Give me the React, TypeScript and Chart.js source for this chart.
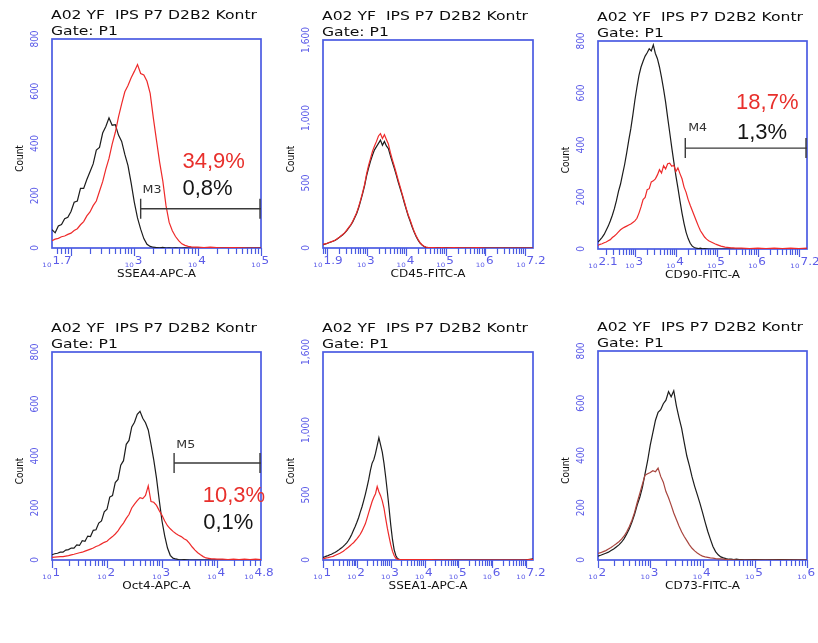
import React, { useEffect, useRef } from 'react';
import { Chart, registerables } from 'chart.js';

Chart.register(...registerables);

// ---------------- DATA ----------------
const TITLE_LINE_1 = 'A02 YF  IPS P7 D2B2 Kontr';
const TITLE_LINE_2 = 'Gate: P1';
const COUNT_LABEL = 'Count';

const Y_TICKS_800 = [0, 200, 400, 600, 800];
const Y_TICKS_1600 = [0, 500, 1000, 1600];

// Panel 1: SSEA4-APC-A
const SSEA4_BINS = [1.7, 1.75, 1.8, 1.85, 1.9, 1.95, 2.0, 2.05, 2.1, 2.15, 2.2, 2.25, 2.3, 2.35, 2.4, 2.45, 2.5, 2.55, 2.6, 2.65, 2.7, 2.75, 2.8, 2.85, 2.9, 2.95, 3.0, 3.05, 3.1, 3.15, 3.2, 3.25, 3.3, 3.35, 3.4, 3.45, 3.5, 3.55, 3.6, 3.65, 3.7, 3.75, 3.8, 3.85, 3.9, 3.95, 4.0, 4.1, 4.2, 4.3, 4.4, 4.5, 4.6, 4.7, 4.8, 4.9, 5.0];
const SSEA4_CONTROL = [70, 58, 84, 90, 112, 118, 140, 175, 180, 228, 228, 262, 292, 322, 375, 385, 440, 465, 498, 470, 472, 432, 408, 358, 315, 248, 175, 115, 72, 36, 14, 6, 3, 2, 1, 2, 0, 1, 0, 1, 0, 0, 1, 0, 0, 0, 0, 0, 0, 0, 0, 0, 0, 0, 0, 0, 0];
const SSEA4_STAINED = [28, 34, 37, 43, 46, 52, 57, 67, 74, 89, 101, 123, 138, 162, 180, 217, 254, 302, 343, 398, 443, 502, 552, 598, 622, 652, 676, 702, 668, 662, 638, 592, 498, 412, 328, 256, 162, 98, 66, 44, 28, 16, 10, 6, 4, 3, 3, 2, 3, 2, 1, 2, 2, 1, 0, 0, 0];
const SSEA4_TICKS = [1.7, 3, 4, 5];

// Panel 2: CD45-FITC-A
const CD45_BINS = [1.9, 1.95, 2.0, 2.05, 2.1, 2.15, 2.2, 2.25, 2.3, 2.35, 2.4, 2.45, 2.5, 2.55, 2.6, 2.65, 2.7, 2.75, 2.8, 2.85, 2.9, 2.95, 3.0, 3.05, 3.1, 3.15, 3.2, 3.25, 3.3, 3.35, 3.4, 3.45, 3.5, 3.55, 3.6, 3.65, 3.7, 3.75, 3.8, 3.85, 3.9, 3.95, 4.0, 4.05, 4.1, 4.15, 4.2, 4.25, 4.3, 4.35, 4.4, 4.45, 4.5, 4.55, 4.6, 4.7, 4.8, 4.9, 5.0, 5.2, 5.4, 5.6, 5.8, 6.0, 6.5, 7.0, 7.2];
const CD45_CONTROL = [26, 30, 35, 40, 46, 52, 58, 68, 78, 90, 102, 116, 134, 155, 175, 200, 232, 266, 310, 362, 418, 480, 555, 615, 668, 715, 755, 780, 805, 830, 790, 820, 785, 765, 710, 660, 612, 560, 505, 455, 405, 350, 298, 248, 205, 162, 122, 88, 60, 38, 22, 11, 5, 3, 2, 2, 1, 2, 1, 1, 0, 0, 0, 0, 0, 0, 0];
const CD45_STAINED = [28, 32, 36, 42, 47, 53, 60, 70, 80, 92, 104, 118, 138, 158, 178, 205, 238, 272, 318, 370, 428, 490, 570, 635, 690, 745, 785, 820, 862, 880, 842, 872, 835, 800, 735, 680, 630, 575, 520, 468, 415, 360, 305, 255, 215, 170, 128, 95, 65, 42, 25, 13, 7, 5, 4, 3, 2, 3, 2, 3, 2, 2, 3, 0, 0, 0, 0];
const CD45_TICKS = [1.9, 3, 4, 5, 6, 7.2];

// Panel 3: CD90-FITC-A
const CD90_BINS = [2.1, 2.15, 2.2, 2.25, 2.3, 2.35, 2.4, 2.45, 2.5, 2.55, 2.6, 2.65, 2.7, 2.75, 2.8, 2.85, 2.9, 2.95, 3.0, 3.05, 3.1, 3.15, 3.2, 3.25, 3.3, 3.35, 3.4, 3.45, 3.5, 3.55, 3.6, 3.65, 3.7, 3.75, 3.8, 3.85, 3.9, 3.95, 4.0, 4.05, 4.1, 4.15, 4.2, 4.25, 4.3, 4.35, 4.4, 4.45, 4.5, 4.55, 4.6, 4.65, 4.7, 4.75, 4.8, 4.85, 4.9, 4.95, 5.0, 5.05, 5.1, 5.15, 5.2, 5.25, 5.3, 5.35, 5.4, 5.45, 5.5, 5.6, 5.8, 6.0, 6.2, 6.4, 6.6, 6.8, 7.0, 7.2];
const CD90_CONTROL = [27, 35, 45, 56, 72, 88, 108, 130, 155, 186, 222, 250, 288, 325, 370, 418, 462, 515, 572, 622, 668, 700, 722, 742, 755, 770, 762, 785, 752, 732, 700, 660, 615, 565, 505, 448, 390, 335, 282, 235, 185, 138, 98, 64, 40, 22, 11, 6, 3, 2, 3, 1, 2, 1, 0, 0, 0, 0, 0, 0, 0, 0, 0, 0, 0, 0, 0, 0, 0, 0, 0, 0, 0, 0, 0, 0, 0, 0];
const CD90_STAINED = [14, 18, 20, 24, 27, 32, 36, 44, 50, 57, 66, 74, 80, 84, 88, 92, 96, 102, 108, 118, 138, 162, 190, 198, 228, 232, 258, 262, 270, 285, 305, 292, 320, 308, 328, 330, 318, 322, 298, 312, 290, 270, 238, 218, 190, 168, 148, 128, 108, 88, 70, 58, 46, 38, 32, 28, 24, 20, 17, 14, 11, 9, 7, 6, 5, 4, 4, 3, 3, 3, 2, 3, 2, 3, 2, 3, 2, 3];
const CD90_TICKS = [2.1, 3, 4, 5, 6, 7.2];

// Panel 4: Oct4-APC-A
const OCT4_BINS = [1.0, 1.05, 1.1, 1.15, 1.2, 1.25, 1.3, 1.35, 1.4, 1.45, 1.5, 1.55, 1.6, 1.65, 1.7, 1.75, 1.8, 1.85, 1.9, 1.95, 2.0, 2.05, 2.1, 2.15, 2.2, 2.25, 2.3, 2.35, 2.4, 2.45, 2.5, 2.55, 2.6, 2.65, 2.7, 2.75, 2.8, 2.85, 2.9, 2.95, 3.0, 3.05, 3.1, 3.15, 3.2, 3.25, 3.3, 3.35, 3.4, 3.45, 3.5, 3.55, 3.6, 3.65, 3.7, 3.75, 3.8, 3.85, 3.9, 3.95, 4.0, 4.1, 4.2, 4.3, 4.4, 4.5, 4.6, 4.7, 4.8];
const OCT4_CONTROL = [20, 24, 26, 30, 30, 38, 40, 46, 46, 58, 56, 74, 72, 92, 90, 114, 116, 142, 150, 185, 195, 242, 248, 298, 310, 365, 382, 445, 460, 512, 530, 560, 572, 545, 528, 500, 445, 385, 315, 230, 150, 92, 46, 18, 7, 4, 2, 1, 2, 1, 0, 0, 0, 0, 0, 0, 0, 0, 0, 0, 0, 0, 0, 0, 0, 0, 0, 0, 0];
const OCT4_STAINED = [10, 11, 12, 13, 13, 15, 17, 20, 22, 25, 28, 30, 34, 38, 42, 46, 52, 56, 62, 68, 72, 82, 90, 100, 112, 128, 142, 160, 175, 200, 215, 228, 240, 236, 248, 285, 225, 222, 210, 190, 172, 150, 132, 120, 110, 102, 95, 90, 82, 76, 64, 50, 38, 28, 20, 13, 8, 6, 4, 4, 3, 3, 2, 3, 2, 3, 2, 3, 2];
const OCT4_TICKS = [1, 2, 3, 4, 4.8];

// Panel 5: SSEA1-APC-A
const SSEA1_BINS = [1.0, 1.05, 1.1, 1.15, 1.2, 1.25, 1.3, 1.35, 1.4, 1.45, 1.5, 1.55, 1.6, 1.65, 1.7, 1.75, 1.8, 1.85, 1.9, 1.95, 2.0, 2.05, 2.1, 2.15, 2.2, 2.25, 2.3, 2.35, 2.4, 2.45, 2.5, 2.55, 2.6, 2.65, 2.7, 2.75, 2.8, 2.85, 2.9, 2.95, 3.0, 3.05, 3.1, 3.15, 3.2, 3.25, 3.3, 3.35, 3.4, 3.45, 3.5, 3.6, 3.8, 4.0, 4.2, 4.4, 4.6, 5.0, 5.5, 6.0, 6.5, 7.0, 7.2];
const SSEA1_CONTROL = [20, 24, 30, 34, 40, 44, 52, 58, 66, 74, 84, 94, 105, 118, 132, 150, 172, 198, 228, 258, 290, 325, 368, 408, 455, 505, 560, 620, 690, 745, 772, 820, 880, 940, 885, 830, 745, 640, 525, 400, 270, 160, 80, 35, 12, 5, 3, 2, 2, 1, 1, 2, 1, 2, 1, 0, 0, 0, 0, 0, 0, 2, 8];
const SSEA1_STAINED = [10, 12, 16, 18, 22, 25, 28, 34, 40, 46, 52, 60, 67, 78, 88, 98, 110, 122, 132, 148, 162, 180, 198, 222, 250, 278, 320, 365, 408, 450, 482, 510, 565, 525, 495, 455, 400, 320, 245, 180, 118, 68, 34, 14, 7, 4, 3, 4, 3, 4, 3, 4, 3, 4, 3, 2, 1, 0, 0, 0, 0, 2, 5];
const SSEA1_TICKS = [1, 2, 3, 4, 5, 6, 7.2];

// Panel 6: CD73-FITC-A
const CD73_BINS = [2.0, 2.05, 2.1, 2.15, 2.2, 2.25, 2.3, 2.35, 2.4, 2.45, 2.5, 2.55, 2.6, 2.65, 2.7, 2.75, 2.8, 2.85, 2.9, 2.95, 3.0, 3.05, 3.1, 3.15, 3.2, 3.25, 3.3, 3.35, 3.4, 3.45, 3.5, 3.55, 3.6, 3.65, 3.7, 3.75, 3.8, 3.85, 3.9, 3.95, 4.0, 4.05, 4.1, 4.15, 4.2, 4.25, 4.3, 4.35, 4.4, 4.45, 4.5, 4.55, 4.6, 4.65, 4.7, 4.75, 4.8, 5.0, 5.2, 5.5, 6.0];
const CD73_CONTROL = [15, 18, 22, 26, 30, 36, 42, 50, 58, 68, 82, 100, 120, 145, 175, 210, 240, 278, 330, 380, 440, 488, 535, 565, 575, 598, 612, 645, 625, 648, 590, 545, 505, 450, 398, 360, 318, 282, 250, 218, 182, 145, 110, 80, 52, 32, 20, 12, 8, 5, 3, 3, 2, 3, 2, 2, 1, 2, 1, 2, 0];
const CD73_STAINED = [25, 28, 32, 36, 42, 48, 55, 62, 70, 80, 92, 108, 128, 152, 182, 220, 255, 290, 325, 330, 335, 342, 338, 352, 320, 298, 262, 238, 210, 180, 155, 130, 108, 90, 74, 58, 45, 35, 27, 20, 15, 12, 10, 8, 7, 5, 4, 4, 3, 2, 2, 1, 1, 0, 0, 0, 0, 0, 0, 0, 0];
const CD73_TICKS = [2, 3, 4, 5, 6];

// Markers (gates) and percentages
const GATE_NAMES = ['M3', 'M4', 'M5'];
const GATE_START = [3.1, 4.23, 3.22];
const GATE_END = [5.0, 7.2, 4.8];
const GATE_LEVEL = [150, 388, 373];
const STAINED_PERCENT = ['34,9%', '18,7%', '10,3%'];
const CONTROL_PERCENT = ['0,8%', '1,3%', '0,1%'];

// ---------------- LAYOUT / STYLE ----------------
const FACS_FONT = '"DejaVu Sans", "Noto Sans", sans-serif';
const PCT_FONT = '"Liberation Sans", Arial, sans-serif';
const AXIS_BLUE = '#4a5be2';
const LABEL_BLUE = '#5c5ce8';
const STRETCH = 1.2;

type Gate = {
  idx: number;
  labelAt: [number, number];
  stainedAt: [number, number];
  controlAt: [number, number];
};

type PanelDef = {
  axisTitle: string;
  bins: number[];
  control: number[];
  stained: number[];
  xMin: number;
  xMax: number;
  xTicks: number[];
  yMax: number;
  yTicks: number[];
  stainedColor: string;
  cell: { x: number; y: number; w: number; h: number };
  plot: { l: number; r: number; t: number; b: number };
  gate?: Gate;
};

const PANELS: PanelDef[] = [
  {
    axisTitle: 'SSEA4-APC-A', bins: SSEA4_BINS, control: SSEA4_CONTROL, stained: SSEA4_STAINED,
    xMin: 1.7, xMax: 5, xTicks: SSEA4_TICKS, yMax: 800, yTicks: Y_TICKS_800, stainedColor: '#ee2a2a',
    cell: { x: 0, y: 0, w: 290, h: 305 }, plot: { l: 52, r: 261, t: 39, b: 248 },
    gate: { idx: 0, labelAt: [3.13, 222], stainedAt: [3.76, 331], controlAt: [3.76, 226] },
  },
  {
    axisTitle: 'CD45-FITC-A', bins: CD45_BINS, control: CD45_CONTROL, stained: CD45_STAINED,
    xMin: 1.9, xMax: 7.2, xTicks: CD45_TICKS, yMax: 1600, yTicks: Y_TICKS_1600, stainedColor: '#ee2a2a',
    cell: { x: 272, y: 0, w: 290, h: 305 }, plot: { l: 323, r: 533, t: 40, b: 248 },
  },
  {
    axisTitle: 'CD90-FITC-A', bins: CD90_BINS, control: CD90_CONTROL, stained: CD90_STAINED,
    xMin: 2.1, xMax: 7.2, xTicks: CD90_TICKS, yMax: 800, yTicks: Y_TICKS_800, stainedColor: '#ee2a2a',
    cell: { x: 545, y: 0, w: 273, h: 305 }, plot: { l: 598, r: 807, t: 41, b: 249 },
    gate: { idx: 1, labelAt: [4.3, 465], stainedAt: [5.47, 561], controlAt: [5.49, 446] },
  },
  {
    axisTitle: 'Oct4-APC-A', bins: OCT4_BINS, control: OCT4_CONTROL, stained: OCT4_STAINED,
    xMin: 1, xMax: 4.8, xTicks: OCT4_TICKS, yMax: 800, yTicks: Y_TICKS_800, stainedColor: '#ee2a2a',
    cell: { x: 0, y: 308, w: 290, h: 305 }, plot: { l: 52, r: 261, t: 352, b: 560 },
    gate: { idx: 2, labelAt: [3.26, 443], stainedAt: [3.74, 248], controlAt: [3.75, 144] },
  },
  {
    axisTitle: 'SSEA1-APC-A', bins: SSEA1_BINS, control: SSEA1_CONTROL, stained: SSEA1_STAINED,
    xMin: 1, xMax: 7.2, xTicks: SSEA1_TICKS, yMax: 1600, yTicks: Y_TICKS_1600, stainedColor: '#ee2a2a',
    cell: { x: 272, y: 308, w: 290, h: 305 }, plot: { l: 323, r: 533, t: 352, b: 560 },
  },
  {
    axisTitle: 'CD73-FITC-A', bins: CD73_BINS, control: CD73_CONTROL, stained: CD73_STAINED,
    xMin: 2, xMax: 6, xTicks: CD73_TICKS, yMax: 800, yTicks: Y_TICKS_800, stainedColor: '#a8453e',
    cell: { x: 545, y: 308, w: 273, h: 305 }, plot: { l: 598, r: 807, t: 351, b: 560 },
  },
];

// ---------------- DRAWING HELPERS ----------------
function drawText(
  ctx: CanvasRenderingContext2D, s: string, x: number, y: number, font: string, color: string,
  align: CanvasTextAlign, baseline: CanvasTextBaseline, sx = 1, rot = 0,
) {
  ctx.save();
  ctx.translate(x, y);
  ctx.scale(sx, 1);
  if (rot) ctx.rotate(rot);
  ctx.font = font;
  ctx.fillStyle = color;
  ctx.textAlign = align;
  ctx.textBaseline = baseline;
  ctx.fillText(s, 0, 0);
  ctx.restore();
}

function makePlugin(p: PanelDef, id: string) {
  return {
    id,
    beforeDatasetsDraw(chart: any) {
      const { ctx, chartArea: a } = chart;
      ctx.save();
      ctx.strokeStyle = AXIS_BLUE;
      ctx.lineWidth = 1.7;
      ctx.strokeRect(a.left, a.top, a.right - a.left, a.bottom - a.top);
      ctx.restore();
    },
    afterDatasetsDraw(chart: any) {
      const { ctx, chartArea: a } = chart;
      const xs = chart.scales.x;
      const ys = chart.scales.y;
      const midX = (a.left + a.right) / 2;
      const midY = (a.top + a.bottom) / 2;

      // log-decade tick marks under the x axis
      ctx.save();
      ctx.strokeStyle = AXIS_BLUE;
      ctx.lineWidth = 1.2;
      for (let n = Math.floor(p.xMin); n <= Math.ceil(p.xMax); n++) {
        for (let k = 1; k <= 9; k++) {
          const v = n + Math.log10(k);
          if (v < p.xMin - 1e-6 || v > p.xMax + 1e-6) continue;
          const px = Math.round(xs.getPixelForValue(v)) + 0.5;
          ctx.beginPath();
          ctx.moveTo(px, a.bottom);
          ctx.lineTo(px, a.bottom + (k === 1 ? 8 : 6));
          ctx.stroke();
        }
      }
      ctx.restore();

      // x tick labels: small "10" + exponent (non-integer end label pulled inwards)
      p.xTicks.forEach((v) => {
        const shift = v === p.xMax && !Number.isInteger(v) ? -7 : 0;
        const px = xs.getPixelForValue(v) + shift;
        drawText(ctx, '10', px - 0.5, a.bottom + 19, `6px ${FACS_FONT}`, LABEL_BLUE, 'right', 'alphabetic', STRETCH);
        drawText(ctx, String(v), px + 0.5, a.bottom + 16, `10px ${FACS_FONT}`, LABEL_BLUE, 'left', 'alphabetic', STRETCH);
      });

      // y tick labels (rotated)
      p.yTicks.forEach((v) => {
        const py = ys.getPixelForValue(v);
        drawText(ctx, v.toLocaleString('en-US'), a.left - 17, py, `9px ${FACS_FONT}`, LABEL_BLUE, 'center', 'middle', STRETCH, -Math.PI / 2);
      });

      // axis titles
      drawText(ctx, COUNT_LABEL, a.left - 32, midY + 15, `9px ${FACS_FONT}`, '#111', 'center', 'middle', STRETCH, -Math.PI / 2);
      drawText(ctx, p.axisTitle, midX, a.bottom + 29, `10px ${FACS_FONT}`, '#111', 'center', 'alphabetic', STRETCH);

      // header
      drawText(ctx, TITLE_LINE_1, a.left - 1, a.top - 20, `13px ${FACS_FONT}`, '#0c0c0c', 'left', 'alphabetic', STRETCH);
      drawText(ctx, TITLE_LINE_2, a.left - 1, a.top - 4, `13px ${FACS_FONT}`, '#0c0c0c', 'left', 'alphabetic', STRETCH);

      // gate marker and percentages
      if (p.gate) {
        const g = p.gate;
        const x1 = xs.getPixelForValue(GATE_START[g.idx]);
        const x2 = xs.getPixelForValue(GATE_END[g.idx]);
        const gy = ys.getPixelForValue(GATE_LEVEL[g.idx]);
        ctx.save();
        ctx.strokeStyle = '#3a3a3a';
        ctx.lineWidth = 1.4;
        ctx.beginPath();
        ctx.moveTo(x1, gy); ctx.lineTo(x2, gy);
        ctx.moveTo(x1, gy - 10); ctx.lineTo(x1, gy + 10);
        ctx.moveTo(x2 - 1, gy - 10); ctx.lineTo(x2 - 1, gy + 10);
        ctx.stroke();
        ctx.restore();
        drawText(ctx, GATE_NAMES[g.idx], xs.getPixelForValue(g.labelAt[0]), ys.getPixelForValue(g.labelAt[1]), `11px ${FACS_FONT}`, '#333', 'left', 'middle', 1.15);
        drawText(ctx, STAINED_PERCENT[g.idx], xs.getPixelForValue(g.stainedAt[0]), ys.getPixelForValue(g.stainedAt[1]), `22px ${PCT_FONT}`, '#e8302c', 'left', 'middle');
        drawText(ctx, CONTROL_PERCENT[g.idx], xs.getPixelForValue(g.controlAt[0]), ys.getPixelForValue(g.controlAt[1]), `22px ${PCT_FONT}`, '#151515', 'left', 'middle');
      }
    },
  };
}

function Histogram({ p, id }: { p: PanelDef; id: string }) {
  const ref = useRef<HTMLCanvasElement>(null);
  useEffect(() => {
    const canvas = ref.current;
    if (!canvas) return;
    const { cell, plot } = p;
    const chart = new Chart(canvas, {
      type: 'line',
      data: {
        datasets: [
          {
            data: p.bins.map((x, i) => ({ x, y: p.stained[i] })),
            borderColor: p.stainedColor,
            borderWidth: 1.2,
            pointRadius: 0,
            tension: 0,
            fill: false,
          },
          {
            data: p.bins.map((x, i) => ({ x, y: p.control[i] })),
            borderColor: '#1c1c1c',
            borderWidth: 1.2,
            pointRadius: 0,
            tension: 0,
            fill: false,
          },
        ],
      },
      options: {
        animation: false,
        responsive: false,
        maintainAspectRatio: false,
        events: [],
        layout: {
          padding: {
            left: plot.l - cell.x,
            top: plot.t - cell.y,
            right: cell.x + cell.w - plot.r,
            bottom: cell.y + cell.h - plot.b,
          },
        },
        plugins: { legend: { display: false }, tooltip: { enabled: false }, title: { display: false } },
        scales: {
          x: {
            type: 'linear', min: p.xMin, max: p.xMax,
            ticks: { display: false }, grid: { display: false }, border: { display: false },
            afterFit: (s: any) => { s.height = 0; },
          },
          y: {
            type: 'linear', min: 0, max: p.yMax,
            ticks: { display: false }, grid: { display: false }, border: { display: false },
            afterFit: (s: any) => { s.width = 0; },
          },
        },
      } as any,
      plugins: [makePlugin(p, id)],
    });
    return () => chart.destroy();
  }, [p, id]);
  return (
    <canvas
      ref={ref}
      width={p.cell.w}
      height={p.cell.h}
      style={{ position: 'absolute', left: p.cell.x, top: p.cell.y, width: p.cell.w, height: p.cell.h }}
    />
  );
}

export default function App() {
  return (
    <div style={{ position: 'absolute', left: 0, top: 0, width: 818, height: 643, background: '#fff', overflow: 'hidden' }}>
      {PANELS.map((p, i) => (
        <Histogram key={i} p={p} id={`facs${i}`} />
      ))}
    </div>
  );
}
